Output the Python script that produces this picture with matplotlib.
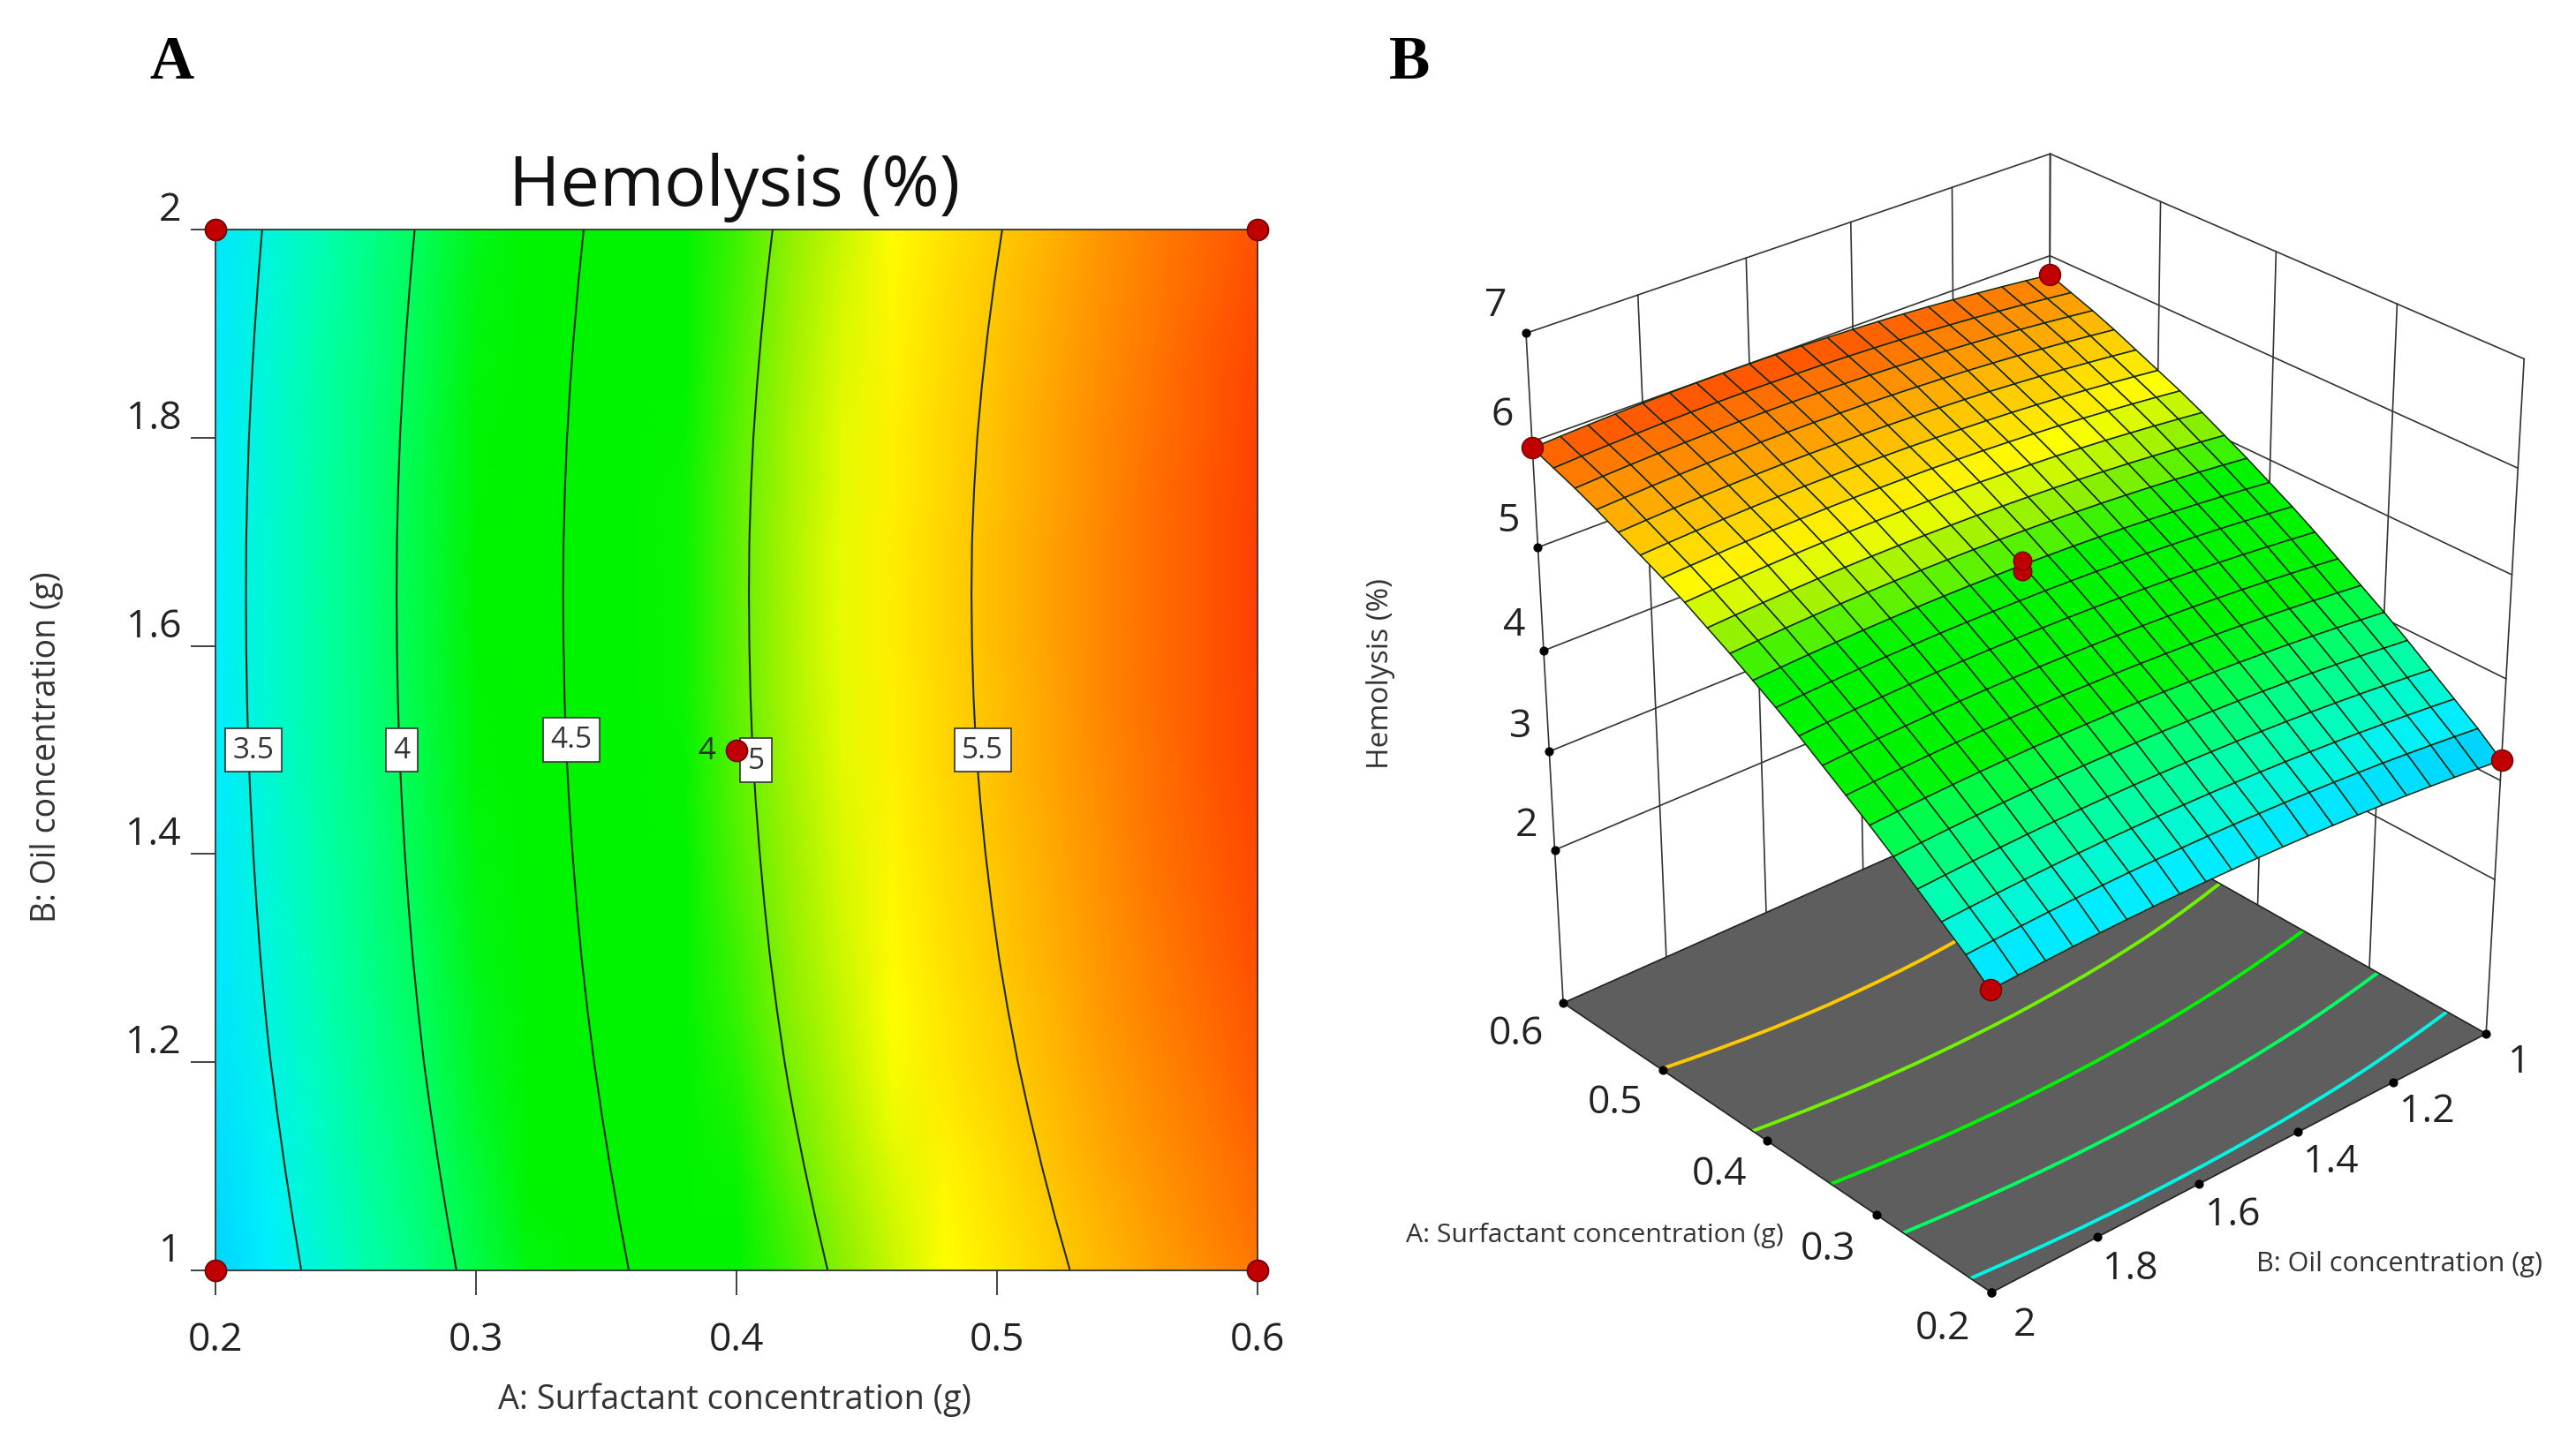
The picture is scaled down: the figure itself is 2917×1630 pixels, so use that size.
import numpy as np
import matplotlib
matplotlib.use('Agg')
import matplotlib.pyplot as plt
from matplotlib.colors import LinearSegmentedColormap, Normalize
from mpl_toolkits.mplot3d import proj3d

W, H = 2917, 1631
plt.rcParams['font.family'] = ['Open Sans', 'DejaVu Sans']

# profile read along B = 1.5, and the shift of the curves with B
surfactant = [0.20, 0.22, 0.24, 0.26, 0.28, 0.30, 0.32, 0.34, 0.36, 0.38, 0.40,
              0.42, 0.44, 0.46, 0.48, 0.50, 0.52, 0.54, 0.56, 0.58, 0.60]
hemolysis_at_mid_oil = [3.38, 3.57, 3.74, 3.91, 4.08, 4.24, 4.39, 4.54, 4.69, 4.83, 4.96,
                        5.09, 5.21, 5.33, 5.44, 5.54, 5.64, 5.74, 5.83, 5.91, 5.99]
oil = [1.00, 1.05, 1.10, 1.15, 1.20, 1.25, 1.30, 1.35, 1.40, 1.45, 1.50,
       1.55, 1.60, 1.65, 1.70, 1.75, 1.80, 1.85, 1.90, 1.95, 2.00]
oil_shift = [-0.18, -0.152, -0.126, -0.102, -0.08, -0.061, -0.044, -0.03, -0.018, -0.008, 0.0,
             0.005, 0.008, 0.009, 0.008, 0.004, -0.002, -0.011, -0.022, -0.035, -0.05]

levels = [3.5, 4, 4.5, 5, 5.5]
level_names = ['3.5', '4', '4.5', '5', '5.5']
label_a = [0.2145, 0.2716, 0.3365, 0.4075, 0.4945]
label_b = [1.50, 1.50, 1.51, 1.49, 1.50]

# design points
point_a = [0.2, 0.2, 0.6, 0.6, 0.4]
point_b = [1, 2, 1, 2, 1.5]
point_z = [3.2, 3.33, 5.81, 5.94, 4.96]
center_z = [4.9, 5.0]

a_ticks = [0.2, 0.3, 0.4, 0.5, 0.6]
b_ticks = [1, 1.2, 1.4, 1.6, 1.8, 2]
z_ticks = [2, 3, 4, 5, 6, 7]

color_z = [3.2, 3.4, 3.7, 4.0, 4.25, 4.82, 5.05, 5.27, 5.54, 5.78, 6.02]
color_hex = ['#00d4ff', '#00f0ff', '#00ffb0', '#00ff60', '#00f400', '#00f400',
             '#90f000', '#ffff00', '#ffc000', '#ff8000', '#ff3c00']

norm = Normalize(color_z[0], color_z[-1])
cmap = LinearSegmentedColormap.from_list(
    'hemo', [((z - color_z[0]) / (color_z[-1] - color_z[0]), c) for z, c in zip(color_z, color_hex)])

A, B = np.meshgrid(surfactant, oil)
Z = np.add.outer(oil_shift, hemolysis_at_mid_oil)

fig = plt.figure(figsize=(W / 100, H / 100), dpi=100)


def px(x, y):
    return x / W, 1 - y / H


# panel A
left, right, top, bottom = 244, 1424, 261, 1440
ax = fig.add_axes([left / W, 1 - bottom / H, (right - left) / W, (bottom - top) / H])
ax.pcolormesh(A, B, Z, cmap=cmap, norm=norm, shading='gouraud')
ax.contour(A, B, Z, levels=levels, colors='#1c2a1c', linewidths=1.5)
ax.set_xlim(0.2, 0.6)
ax.set_ylim(1, 2)
ax.set_xticks(a_ticks)
ax.set_xticklabels([str(v) for v in a_ticks])
ax.set_yticks(b_ticks)
ax.set_yticklabels([str(v) for v in b_ticks], va='bottom')
ax.tick_params(axis='both', length=20, width=1.3, color='#333333', labelsize=32, labelcolor='#222222')
ax.tick_params(axis='y', pad=8)
ax.tick_params(axis='x', pad=21)
for s in ax.spines.values():
    s.set_color('#333333')
    s.set_linewidth(1.3)
for v, name, xa, yb in zip(levels, level_names, label_a, label_b):
    ax.text(xa, yb, name, fontsize=24, color='#333333', ha='center', va='center',
            bbox=dict(boxstyle='square,pad=0.25', fc='white', ec='#333333', lw=1.2))
ax.text(0.3885, 1.5, '4', fontsize=25, color='#1a3a1a', ha='center', va='center')
ax.scatter(point_a, point_b, s=300, c='#c00000', edgecolors='#700000', linewidths=1.2, zorder=5, clip_on=False)
fig.text(*px(832, 213), 'Hemolysis (%)', fontsize=57, ha='center', va='center', color='#111111')
fig.text(*px(832, 1586), 'A: Surfactant concentration (g)', fontsize=27.3, ha='center', va='center', color='#333333')
fig.text(*px(53, 846), 'B: Oil concentration (g)', fontsize=27, rotation=90, ha='center', va='center', color='#333333')

# panel B
floor = 0.4
ceil = 7
ax3 = fig.add_axes([1608 / W, 18 / H, 1328 / W, 1.0 - 18 / H], projection='3d')
ax3.set_proj_type('persp', focal_length=0.75)
ax3.view_init(elev=29, azim=138.5)
ax3.set_box_aspect((1, 1, 1.13), zoom=1.018)
ax3.set_anchor((0.5, 0.5))
ax3.computed_zorder = False
ax3.set_axis_off()
ax3.set_xlim(0.2, 0.6)
ax3.set_ylim(1, 2)
ax3.set_zlim(floor, ceil)

wall = '#333333'
for v in z_ticks:
    ax3.plot([0.6, 0.6, 0.2], [2, 1, 1], [v, v, v], color=wall, lw=1.2, zorder=1, clip_on=False)
for v in b_ticks:
    ax3.plot([0.6, 0.6], [v, v], [floor, ceil], color=wall, lw=1.2, zorder=1, clip_on=False)
for v in a_ticks:
    ax3.plot([v, v], [1, 1], [floor, ceil], color=wall, lw=1.2, zorder=1, clip_on=False)
ax3.plot_surface(np.array([[0.2, 0.6], [0.2, 0.6]]), np.array([[1, 1], [2, 2]]), np.full((2, 2), floor),
                 color='#5e5e5e', shade=False, zorder=2)
ax3.contour(A, B, Z, levels=levels, zdir='z', offset=floor, cmap=cmap, norm=norm, linewidths=2.8, zorder=3)
ax3.plot([0.2, 0.6, 0.6, 0.2, 0.2], [1, 1, 2, 2, 1], [floor] * 5, color='#222222', lw=1.2, zorder=3)
ax3.plot_surface(A, B, Z, rstride=1, cstride=1, facecolors=cmap(norm(Z)), edgecolor='#10280c',
                 linewidth=1.1, shade=False, zorder=4)
ax3.scatter(point_a[:4], point_b[:4], point_z[:4], s=300, c='#c00000', edgecolors='#700000',
            depthshade=False, zorder=6)
ax3.scatter([0.4, 0.4], [1.5, 1.5], center_z, s=220, c='#c00000', edgecolors='#700000',
            depthshade=False, zorder=6)

ax3.scatter([0.6] * 6, [2] * 6, z_ticks, s=40, c='k', depthshade=False, zorder=5)
ax3.scatter(a_ticks, [2] * 5, [floor] * 5, s=40, c='k', depthshade=False, zorder=5)
ax3.scatter([0.2] * 6, b_ticks, [floor] * 6, s=40, c='k', depthshade=False, zorder=5)


def tick_text(x, y, z, s):
    # projected by hand so the label stays a plain 2D text
    x2, y2, _ = proj3d.proj_transform(x, y, z, ax3.get_proj())
    ax3.text2D(x2, y2, s, transform=ax3.transData, fontsize=32, color='#222222', ha='center', va='center')


for v in z_ticks:
    tick_text(0.611, 2.03, v + 0.25, str(v))
for v in a_ticks:
    tick_text(v, 2.09, floor - 0.1, str(v))
for v in b_ticks:
    tick_text(0.172, v, floor - 0.1, str(v))

fig.text(*px(1806, 1399), 'A: Surfactant concentration (g)', fontsize=21.8, ha='center', va='center', color='#333333')
fig.text(*px(2717, 1432), 'B: Oil concentration (g)', fontsize=22, ha='center', va='center', color='#333333')
fig.text(*px(1563, 763), 'Hemolysis (%)', fontsize=24, rotation=90, ha='center', va='center', color='#333333')

fig.text(*px(194, 72), 'A', fontsize=50, fontweight='bold', family='Liberation Serif', ha='center', va='center')
fig.text(*px(1596, 72), 'B', fontsize=50, fontweight='bold', family='Liberation Serif', ha='center', va='center')

fig.savefig('out.png', dpi=100)
